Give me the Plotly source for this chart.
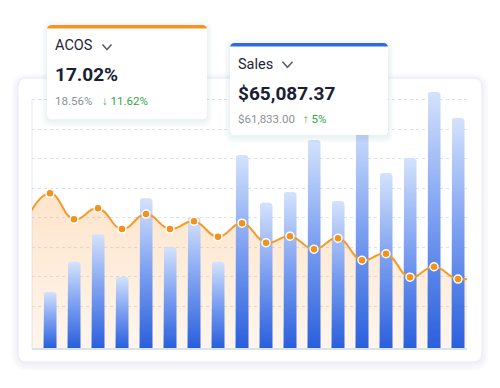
import plotly.graph_objects as go
import numpy as np

# ---------------- data ----------------
days = list(range(18))
sales = [19.0, 29.2, 38.6, 24.1, 50.8, 34.2, 44.4, 29.2, 65.4,
         49.2, 52.9, 70.5, 49.8, 77.5, 59.3, 64.4, 86.8, 78.0]
# ACOS (%) including one point before / after the visible window
acos_days = [-1] + days + [18]
acos = [19.6, 23.8, 19.8, 21.5, 18.3, 20.6, 18.3, 19.5, 17.1, 19.2,
        16.2, 17.2, 15.2, 16.9, 13.5, 14.5, 10.9, 12.5, 10.6, 11.3]
grid_vals = [14.2, 24.2, 34.2, 44.2, 54.2, 64.2, 74.2, 84.2]

acos_title = "ACOS"
acos_value = "17.02%"
acos_prev = "18.56%"
acos_change = "↓ 11.62%"
sales_title = "Sales"
sales_value = "$65,087.37"
sales_prev = "$61,833.00"
sales_change = "↑ 5%"

# ---------------- geometry (screen pixels) ----------------
W, H = 500, 388
OFF = 8  # default page body margin
L, R, T, B = 32, 467, 88, 348
X_RANGE = [-0.75, 17.375]
SALES_RANGE = [0, 88.1356]
ACOS_RANGE = [0, 40]


def px(x):
    return (x - L) / (R - L)


def py(y):
    return (B - y) / (B - T)


def rr_path(x0, y0, x1, y1, r, top=True, bottom=True):
    rt = r if top else 0
    rb = r if bottom else 0
    P = lambda x, y: f"{px(x):.5f},{py(y):.5f}"
    return (f"M{P(x0 + rt, y0)} L{P(x1 - rt, y0)} Q{P(x1, y0)} {P(x1, y0 + rt)} "
            f"L{P(x1, y1 - rb)} Q{P(x1, y1)} {P(x1 - rb, y1)} "
            f"L{P(x0 + rb, y1)} Q{P(x0, y1)} {P(x0, y1 - rb)} "
            f"L{P(x0, y0 + rt)} Q{P(x0, y0)} {P(x0 + rt, y0)} Z")


shapes = []


def add_card(x0, y0, x1, y1, r, layer, shadow_alpha, n_sh, accent=None, border=None):
    for k in range(n_sh, 0, -1):
        shapes.append(dict(type="path", xref="paper", yref="paper", layer=layer,
                           path=rr_path(x0 - k, y0 - k + 2, x1 + k, y1 + k + 2, r + k),
                           fillcolor=f"rgba(40,60,110,{shadow_alpha})",
                           line=dict(width=0)))
    if accent:
        shapes.append(dict(type="path", xref="paper", yref="paper", layer=layer,
                           path=rr_path(x0, y0, x1, y0 + 14, r),
                           fillcolor=accent, line=dict(width=0)))
        shapes.append(dict(type="path", xref="paper", yref="paper", layer=layer,
                           path=rr_path(x0, y0 + 3.5, x1, y1, r, top=False),
                           fillcolor="white", line=dict(width=0)))
    else:
        shapes.append(dict(type="path", xref="paper", yref="paper", layer=layer,
                           path=rr_path(x0, y0, x1, y1, r),
                           fillcolor="white",
                           line=dict(width=1, color=border or "rgba(0,0,0,0)")))


def chevron(cx, cy, w, h):
    P = lambda x, y: f"{px(x):.5f},{py(y):.5f}"
    shapes.append(dict(type="path", xref="paper", yref="paper", layer="above",
                       path=f"M{P(cx - w / 2, cy - h / 2)} L{P(cx, cy + h / 2)} L{P(cx + w / 2, cy - h / 2)}",
                       line=dict(width=1.6, color="#5b606b")))


# background chart card
add_card(18, 78, 482, 362, 9, "below", 0.009, 7, border="#e8ecf5")
# tooltip cards
add_card(47, 25, 207, 119, 5, "above", 0.011, 6, accent="#f7931e")
add_card(230, 43, 388, 135, 5, "above", 0.011, 6, accent="#2f6be3")
chevron(107, 47, 9, 5)
chevron(287.5, 64.5, 10, 5.5)

# left axis line
shapes.append(dict(type="line", xref="paper", yref="y2", layer="below",
                   x0=0, x1=0, y0=0, y1=grid_vals[-1],
                   line=dict(width=1, color="#e2e7f1")))

fig = go.Figure()

# ACOS fill area (bottom layer)
fig.add_trace(go.Scatter(
    x=acos_days, y=acos, mode="lines",
    line=dict(width=0, color="rgba(0,0,0,0)", shape="spline", smoothing=1.3),
    fill="tozeroy",
    fillgradient=dict(type="vertical", start=0, stop=max(acos),
                      colorscale=[[0, "rgba(251,180,110,0.13)"], [1, "rgba(251,176,100,0.34)"]]),
    hoverinfo="skip", showlegend=False, yaxis="y"))

# sales bars (gradient polygons)
hw = 0.27
px_per_x = (R - L) / (X_RANGE[1] - X_RANGE[0])
px_per_y = (B - T) / (SALES_RANGE[1] - SALES_RANGE[0])
rad = 3.0
rx, ry = rad / px_per_x, rad / px_per_y
ang = np.linspace(0, np.pi / 2, 6)
for d, v in zip(days, sales):
    x0, x1 = d - hw, d + hw
    xs = [x0]
    ys = [0]
    for a in ang:
        xs.append(x0 + rx - rx * np.cos(a))
        ys.append(v - ry + ry * np.sin(a))
    for a in ang:
        xs.append(x1 - rx + rx * np.sin(a))
        ys.append(v - ry + ry * np.cos(a))
    xs += [x1, x0]
    ys += [0, 0]
    fig.add_trace(go.Scatter(
        x=xs, y=ys, mode="lines", fill="toself",
        line=dict(width=0, color="rgba(0,0,0,0)"),
        fillgradient=dict(type="vertical",
                          colorscale=[[0, "#2a5fdc"], [0.5, "#7a9ef0"], [1, "#d4e2fc"]]),
        hoverinfo="skip", showlegend=False, yaxis="y2"))

# ACOS line + markers (top layer)
fig.add_trace(go.Scatter(
    x=acos_days, y=acos, mode="lines",
    line=dict(width=2, color="#f29b2e", shape="spline", smoothing=1.3),
    hoverinfo="skip", showlegend=False, yaxis="y3"))
fig.add_trace(go.Scatter(
    x=days, y=acos[1:-1], mode="markers",
    marker=dict(size=8, color="#f0921c", line=dict(width=1.5, color="white")),
    hoverinfo="skip", showlegend=False, yaxis="y3"))

# ---------------- annotations ----------------
FONT = "Roboto, Arial, sans-serif"
ann = []


def text(x, y, s, size, color, bold=False):
    ann.append(dict(xref="paper", yref="paper", x=px(x), y=py(y), text=(f"<b>{s}</b>" if bold else s),
                    xanchor="left", yanchor="middle", showarrow=False, borderpad=0,
                    font=dict(family=FONT, size=size, color=color)))


text(54, 46, acos_title, 14.5, "#1e2436")
text(54, 75, acos_value, 19, "#1a2033", bold=True)
text(54, 100.5, acos_prev, 11.5, "#8b9099")
text(100.5, 100.5, acos_change, 11.5, "#2ea743")
text(237, 64, sales_title, 14.5, "#1e2436")
text(237, 93, sales_value, 19, "#1a2033", bold=True)
text(237, 119, sales_prev, 11.5, "#8b9099")
text(302, 119, sales_change, 11.5, "#2ea743")

fig.update_layout(
    width=W - OFF, height=H - OFF, autosize=False,
    margin=dict(l=L - OFF, r=W - R, t=T - OFF, b=H - B, pad=0),
    paper_bgcolor="white", plot_bgcolor="rgba(0,0,0,0)",
    showlegend=False,
    xaxis=dict(range=X_RANGE, showgrid=False, zeroline=False, showticklabels=False,
               ticks="", showline=True, linecolor="#dbe2ef", linewidth=1.5, fixedrange=True),
    yaxis=dict(range=ACOS_RANGE, showgrid=False, zeroline=False, showticklabels=False,
               ticks="", fixedrange=True),
    yaxis2=dict(range=SALES_RANGE, overlaying="y", tickmode="array", tickvals=grid_vals,
                showgrid=True, gridcolor="#dce1ec", gridwidth=1, griddash="dot",
                zeroline=False, showticklabels=False, ticks="", fixedrange=True),
    yaxis3=dict(range=ACOS_RANGE, overlaying="y", showgrid=False, zeroline=False,
                showticklabels=False, ticks="", fixedrange=True),
    shapes=shapes, annotations=ann,
)

fig.write_html("out.html", config={"displayModeBar": False})
